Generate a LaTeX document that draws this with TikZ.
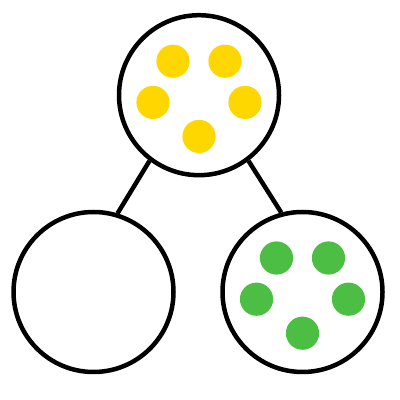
\documentclass[tikz,border=0pt]{standalone}
\usepackage{xcolor}
\usepackage{tikz}

\definecolor{dotyellow}{HTML}{FFD700}
\definecolor{dotgreen}{HTML}{4BBE43}

\begin{document}
\begin{tikzpicture}
	\tikzstyle{bowl}=[circle, draw=black, line width=3.2pt, minimum size=4cm, inner sep=0pt];
	\tikzstyle{ydot}=[circle, fill=dotyellow, minimum size=0.83cm, inner sep=0pt];
	\tikzstyle{gdot}=[circle, fill=dotgreen, minimum size=0.83cm, inner sep=0pt];
	\useasboundingbox (0, 0) rectangle (10, 10);

	%Level 1
	\node[bowl] (top) at (4.975, 7.62) {};
	\node[ydot] (y1) at (4.325, 8.47) {};
	\node[ydot] (y2) at (5.625, 8.47) {};
	\node[ydot] (y3) at (3.825, 7.44) {};
	\node[ydot] (y4) at (6.125, 7.44) {};
	\node[ydot] (y5) at (4.975, 6.59) {};

	%Level 2
	\node[bowl] (left) at (2.3375, 2.7) {};
	\node[bowl] (right) at (7.5625, 2.7) {};
	\node[gdot] (g1) at (6.9125, 3.55) {};
	\node[gdot] (g2) at (8.2125, 3.55) {};
	\node[gdot] (g3) at (6.4125, 2.52) {};
	\node[gdot] (g4) at (8.7125, 2.52) {};
	\node[gdot] (g5) at (7.5625, 1.67) {};

	%Lines
	\draw[line width=3.2pt] (top.233) -- (left.73);
	\draw[line width=3.2pt] (top.307) -- (right.105);
\end{tikzpicture}
\end{document}
